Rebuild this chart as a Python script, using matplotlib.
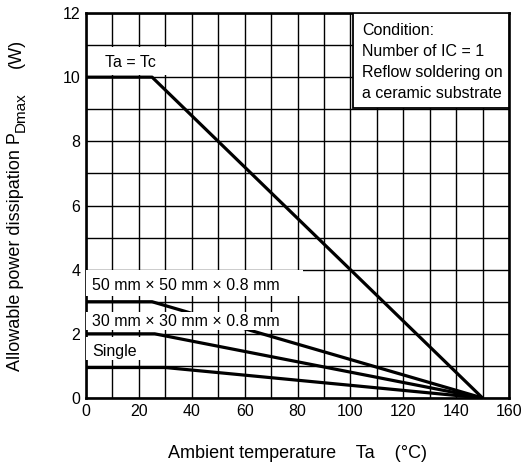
import matplotlib.pyplot as plt
from matplotlib.patches import Rectangle

plt.rcParams['font.family'] = ['Liberation Sans', 'DejaVu Sans']
plt.rcParams['font.size'] = 11.5

# derating curves: (Ta, PDmax)
tatc_x = [0, 25, 150]
tatc_y = [10, 10, 0]
sub50_x = [0, 25, 150]
sub50_y = [3, 3, 0]
sub30_x = [0, 26, 150]
sub30_y = [2, 2, 0]
single_x = [0, 30, 150]
single_y = [0.95, 0.95, 0]

x_ticks = [0, 20, 40, 60, 80, 100, 120, 140, 160]
y_ticks = [0, 2, 4, 6, 8, 10, 12]

condition_lines = ['Condition:', 'Number of IC = 1', 'Reflow soldering on', 'a ceramic substrate']


def main():
    W, H = 528, 468
    fig = plt.figure(figsize=(W / 100, H / 100), dpi=100)
    ax = fig.add_axes([86 / W, 1 - 398 / H, 423 / W, 385 / H])

    ax.set_xlim(0, 160)
    ax.set_ylim(0, 12)
    ax.set_xticks(x_ticks)
    ax.set_yticks(y_ticks)
    ax.set_xticks(range(0, 161, 10), minor=True)
    ax.set_yticks(range(0, 13), minor=True)
    ax.grid(True, which='both', color='black', lw=1.0, zorder=0)
    ax.set_axisbelow(True)
    ax.tick_params(which='both', direction='in', length=0, labelsize=11.5, pad=4)
    for s in ax.spines.values():
        s.set_linewidth(1.9)

    for xs, ys in [(tatc_x, tatc_y), (sub50_x, sub50_y), (sub30_x, sub30_y), (single_x, single_y)]:
        ax.plot(xs, ys, color='black', lw=2.3, zorder=3, solid_capstyle='butt')

    # white label boxes (hide grid / lines behind labels)
    boxes = [
        (5.5, 10.07, 25.5, 0.87, 2),
        (0, 3.18, 82, 0.81, 4),
        (0, 2.12, 74, 0.56, 4),
        (0, 1.18, 21.6, 0.72, 4),
    ]
    for x0, y0, w, h, z in boxes:
        ax.add_patch(Rectangle((x0, y0), w, h, facecolor='white', edgecolor='none', zorder=z))

    ax.text(7.2, 10.47, 'Ta = Tc', va='center', ha='left', zorder=5)
    ax.text(2.3, 3.5, '50 mm \u00d7 50 mm \u00d7 0.8 mm', va='center', ha='left', zorder=5)
    ax.text(2.3, 2.37, '30 mm \u00d7 30 mm \u00d7 0.8 mm', va='center', ha='left', zorder=5)
    ax.text(2.3, 1.46, 'Single', va='center', ha='left', zorder=5)

    ax.add_patch(Rectangle((101, 9.04), 59, 2.96, facecolor='white', edgecolor='black',
                           lw=1.3, zorder=4))
    for i, line in enumerate(condition_lines):
        ax.text(104.4, 11.45 - 0.65 * i, line, va='center', ha='left', zorder=5)

    fig.text(0.5625, 1 - 453 / H, 'Ambient temperature    Ta    (\u00b0C)', ha='center',
             va='center', fontsize=13)

    # y label built from pieces so the subscript can be sized freely
    t1 = fig.text(0, 0, 'Allowable power dissipation P', rotation=90, ha='center', va='bottom',
                  fontsize=13)
    t2 = fig.text(0, 0, 'Dmax', rotation=90, ha='center', va='bottom', fontsize=11)
    t3 = fig.text(0, 0, '(W)', rotation=90, ha='center', va='bottom', fontsize=13)
    fig.canvas.draw()
    r = fig.canvas.get_renderer()
    h1 = t1.get_window_extent(r).height
    h2 = t2.get_window_extent(r).height
    h3 = t3.get_window_extent(r).height
    gap = 24
    total = h1 + 1 + h2 + gap + h3
    y0 = (H - 205) - total / 2
    xc = 16
    t1.set_position((xc / W, y0 / H))
    t2.set_position(((xc + 5) / W, (y0 + h1 + 1) / H))
    t3.set_position((xc / W, (y0 + h1 + 1 + h2 + gap) / H))

    fig.savefig('out.png', dpi=100)


if __name__ == '__main__':
    main()
